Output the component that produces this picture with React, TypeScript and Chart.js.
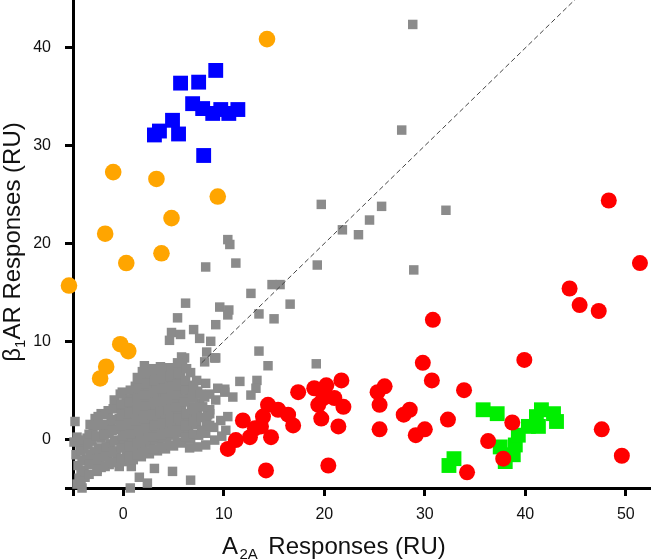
import React, { useEffect, useRef } from 'react';
import { Chart, registerables } from 'chart.js';

Chart.register(...registerables);

// ---- axis definitions ----
const xTicks = [-5, 0, 10, 20, 30, 40, 50];
const yTicks = [-5, 0, 10, 20, 30, 40];
const xMin = -5;
const xMax = 52.5;
const yMin = -5;
const yMax = 44.9;
const xTitleMain = 'A';
const xTitleSub = '2A';
const xTitleRest = 'Responses (RU)';
const yTitleMain = 'β';
const yTitleSub = '1';
const yTitleRest = 'AR Responses (RU)';

// identity (y = x) reference line
const diagonalLine: [number, number][] = [
  [7.8, 7.8],
  [45.2, 45.2],
];

// ---- series ----
const bluePoints: [number, number][] = [
  [9.2, 37.7], [5.7, 36.4], [7.5, 36.5], [6.9, 34.3], [7.9, 33.8], [8.9, 33.3],
  [9.7, 33.7], [10.5, 33.3], [11.4, 33.7], [4.9, 32.6], [3.6, 31.5], [3.1, 31.1],
  [5.5, 31.2], [8.0, 29.0],
];

const orangePoints: [number, number][] = [
  [14.3, 40.9], [-1.0, 27.3], [3.3, 26.6], [9.4, 24.8], [4.8, 22.6], [-1.8, 21.0],
  [3.8, 19.0], [0.3, 18.0], [-5.4, 15.7], [-0.3, 9.7], [0.5, 9.0], [-1.7, 7.4],
  [-2.3, 6.2],
];

const redPoints: [number, number][] = [
  [10.4, -1.0], [11.2, -0.1], [11.9, 1.9], [12.6, 0.2], [13.1, 1.1], [13.9, 2.3],
  [14.4, 3.5], [15.4, 3.0], [14.7, 0.2], [13.7, 1.3], [16.4, 2.5], [16.9, 1.4],
  [14.2, -3.2], [17.4, 4.8], [19.0, 5.2], [20.2, 5.5], [21.7, 6.0], [19.4, 3.5],
  [19.9, 4.2], [21.0, 4.2], [21.9, 3.3], [19.7, 2.1], [21.4, 1.3], [20.4, -2.7],
  [29.8, 7.8], [30.7, 6.0], [33.9, 5.0], [26.0, 5.4], [25.3, 4.8], [25.5, 3.5],
  [28.5, 3.0], [27.9, 2.5], [25.5, 1.0], [29.1, 0.4], [30.0, 1.0], [32.3, 2.0],
  [36.3, -0.2], [37.8, -2.0], [34.2, -3.4], [30.8, 12.2], [44.4, 15.4], [45.4, 13.7],
  [47.3, 13.1], [39.9, 8.1], [38.7, 1.7], [47.6, 1.0], [49.6, -1.7], [51.4, 18.0],
  [48.3, 24.4],
];

const greenPoints: [number, number][] = [
  [35.8, 3.0], [37.2, 2.6], [32.9, -2.0], [32.4, -2.7], [37.5, -0.8], [38.0, -2.3],
  [39.0, -0.6], [39.3, 0.4], [40.3, 1.3], [41.3, 1.3], [41.6, 3.0], [42.8, 2.6],
  [43.1, 1.8], [38.8, -1.6], [41.1, 2.3],
];

const grayPoints: [number, number][] = [
  // scattered points away from the main cloud
  [28.8, 42.4], [27.7, 31.6], [19.7, 24.0], [25.7, 23.8], [32.1, 23.4], [24.5, 22.4],
  [21.8, 21.4], [23.4, 20.9], [28.9, 17.3], [19.3, 17.8], [10.4, 20.4], [10.6, 19.9],
  [8.2, 17.6], [11.2, 18.0], [14.8, 15.8], [15.6, 15.8], [12.7, 14.9], [16.6, 13.8],
  [6.2, 13.9], [9.6, 13.5], [10.5, 13.2], [10.4, 12.7], [13.5, 12.8], [15.0, 12.3],
  [5.4, 12.4], [9.2, 11.7], [4.8, 10.9], [5.7, 10.7], [4.6, 10.1], [7.0, 11.2],
  [7.6, 10.3], [8.7, 10.0], [13.5, 9.0], [14.4, 7.5], [8.3, 8.9], [9.2, 8.3],
  [8.1, 7.9], [6.1, 8.3], [11.6, 5.9], [13.3, 6.0], [13.2, 5.2], [10.1, 5.1],
  [10.9, 4.3], [12.7, 4.5], [19.2, 7.7], [2.1, 7.5], [10.4, 2.3], [-4.8, 1.8],
  [8.6, 2.6], [6.7, -4.2], [4.9, -3.3], [3.1, -3.0], [2.4, -4.5], [1.6, -3.9],
  [0.7, -5.0], [0.8, -2.8], [-0.4, -2.8], [-4.1, -5.0], [-4.4, -4.0], [-3.9, -3.2],
  [-2.6, -3.3], [-3.0, 1.0], [-2.2, 2.6], [-4.9, -0.3], [-4.6, 0.2], [8.2, 5.7],
  [9.4, 5.2], [10.1, 4.8], [8.6, 3.0], [9.7, 1.9], [10.2, 0.9], [9.1, -0.1],
  [8.2, 0.6], [8.4, 2.5], [9.1, 8.3],
  // dense cloud around the origin
  [-4.6, -4.6], [-4.5, -2.7], [-4.7, -1.6], [-4.3, -0.7],
  [-3.8, -3.9], [-3.7, -2.1], [-3.9, -1.0], [-3.6, 0.1],
  [-3.0, -2.4], [-2.9, -1.3], [-3.1, -0.2], [-2.8, 2.1],
  [-2.2, -2.9], [-2.3, -1.9], [-2.1, -1.0], [-2.2, 0.1], [-2.0, 1.2],
  [-1.4, -2.6], [-1.5, -1.5], [-1.3, -0.5], [-1.4, 0.6], [-1.2, 1.7], [-1.5, 2.9],
  [-0.6, -2.2], [-0.7, -1.2], [-0.5, -0.1], [-0.6, 1.0], [-0.4, 2.1], [-0.6, 3.4], [-0.3, 4.6],
  [0.2, -2.3], [0.3, -1.3], [0.1, -0.3], [0.2, 0.8], [0.4, 1.9], [0.2, 3.0], [0.3, 4.1],
  [1.0, -2.1], [1.1, -1.0], [0.9, 0.1], [1.0, 1.2], [1.2, 2.3], [0.9, 3.4], [1.1, 4.6], [1.2, 5.4],
  [1.8, -1.8], [1.9, -0.8], [1.7, 0.4], [1.8, 1.5], [2.0, 2.6], [1.8, 3.8], [1.9, 5.0], [1.8, 6.0], [1.9, 6.9],
  [2.6, -1.5], [2.7, -0.4], [2.5, 0.7], [2.6, 1.8], [2.8, 2.9], [2.6, 4.0], [2.5, 5.2], [2.7, 6.4], [2.9, 7.2],
  [3.4, -1.2], [3.5, -0.1], [3.3, 1.0], [3.4, 2.1], [3.6, 3.2], [3.4, 4.3], [3.3, 5.5], [3.5, 6.6], [3.7, 7.4],
  [4.2, -1.0], [4.3, 0.1], [4.1, 1.3], [4.2, 2.4], [4.4, 3.5], [4.2, 4.6], [4.1, 5.7], [4.3, 6.8], [4.6, 7.3],
  [5.0, -0.7], [5.1, 0.4], [4.9, 1.5], [5.0, 2.6], [5.2, 3.8], [5.0, 4.9], [4.9, 6.0], [5.1, 7.0],
  [5.8, -0.4], [5.9, 0.7], [5.7, 1.8], [5.8, 2.9], [6.0, 4.1], [5.8, 5.2], [5.7, 6.3], [5.9, 7.6], [5.8, 8.4],
  [6.6, -0.9], [6.7, 0.0], [6.5, 1.1], [6.6, 2.2], [6.8, 3.3], [6.6, 4.4], [6.5, 5.5], [6.7, 6.8],
  [7.4, -0.8], [7.5, 0.4], [7.3, 1.5], [7.4, 2.6], [7.6, 3.7], [7.4, 4.9], [7.3, 6.0],
  [8.2, -0.6], [8.3, 1.8], [8.1, 4.3], [9.0, 1.2], [9.2, 4.0], [9.8, 0.3],
  // in-between fill of the cloud
  [-4.2, -4.3], [-4.2, -3.2], [-4.1, -2.2], [-4.2, -1.2], [-4.1, -0.1],
  [-3.4, -3.6], [-3.4, -2.6], [-3.3, -1.6], [-3.5, -0.6], [-3.4, 0.5], [-3.3, 1.5],
  [-2.6, -3.1], [-2.6, -2.1], [-2.5, -0.9], [-2.7, 0.3], [-2.6, 1.4], [-2.5, 2.3],
  [-1.8, -2.8], [-1.8, -1.8], [-1.7, -0.8], [-1.9, 0.4], [-1.8, 1.5], [-1.8, 2.5],
  [-1.0, -2.4], [-1.0, -1.3], [-0.9, -0.2], [-1.1, 0.9], [-1.0, 2.0], [-1.0, 3.1], [-0.9, 4.0],
  [-0.2, -2.0], [-0.2, -0.9], [-0.1, 0.3], [-0.3, 1.4], [-0.2, 2.5], [-0.2, 3.6], [-0.1, 4.8],
  [0.6, -1.8], [0.6, -0.7], [0.7, 0.5], [0.5, 1.6], [0.6, 2.7], [0.6, 3.8], [0.7, 5.0],
  [1.4, -1.6], [1.4, -0.4], [1.5, 0.8], [1.3, 1.9], [1.4, 3.0], [1.4, 4.2], [1.5, 5.2], [1.4, 6.3],
  [2.2, -1.3], [2.2, -0.1], [2.3, 1.1], [2.1, 2.2], [2.2, 3.4], [2.2, 4.5], [2.3, 5.7], [2.2, 6.8],
  [3.0, -1.0], [3.0, 0.2], [3.1, 1.4], [2.9, 2.5], [3.0, 3.7], [3.0, 4.8], [3.1, 6.0], [3.0, 7.0],
  [3.8, -0.8], [3.8, 0.4], [3.9, 1.6], [3.7, 2.8], [3.8, 3.9], [3.8, 5.1], [3.9, 6.2], [3.8, 7.1],
  [4.6, -0.6], [4.6, 0.6], [4.7, 1.8], [4.5, 3.0], [4.6, 4.1], [4.6, 5.3], [4.7, 6.4],
  [5.4, -0.3], [5.4, 0.9], [5.5, 2.1], [5.3, 3.3], [5.4, 4.5], [5.4, 5.6], [5.5, 6.7], [5.4, 7.8],
  [6.2, 0.2], [6.2, 1.4], [6.3, 2.6], [6.1, 3.8], [6.2, 5.0], [6.2, 6.0], [6.3, 7.2],
  [7.0, 0.5], [7.0, 1.8], [7.1, 3.0], [6.9, 4.2], [7.0, 5.3],
  [7.8, 0.9], [7.8, 2.2], [7.9, 3.3], [7.7, 4.6],
  [8.6, 1.4], [8.6, 4.6],
];

const toXY = (pts: [number, number][]) => pts.map(([x, y]) => ({ x, y }));

const FONT = 'Arial, "Liberation Sans", Helvetica, sans-serif';

const titlePlugin = {
  id: 'axisTitles',
  afterDraw(chart: any) {
    const ctx = chart.ctx as CanvasRenderingContext2D;
    const area = chart.chartArea;
    const big = `24px ${FONT}`;
    const small = `15px ${FONT}`;
    ctx.save();
    ctx.fillStyle = '#111';
    ctx.textBaseline = 'alphabetic';
    ctx.textAlign = 'left';

    // x title
    ctx.font = big;
    const w1 = ctx.measureText(xTitleMain).width;
    ctx.font = small;
    const w2 = ctx.measureText(xTitleSub).width;
    const by = 554;
    const x0 = area.left + 149;
    ctx.font = big;
    ctx.fillText(xTitleMain, x0, by);
    ctx.font = small;
    ctx.fillText(xTitleSub, x0 + w1 + 1.5, by + 5);
    ctx.font = big;
    ctx.fillText(xTitleRest, x0 + w1 + 1.5 + w2 + 10.5, by);

    // y title (rotated)
    ctx.font = big;
    const v1 = ctx.measureText(yTitleMain).width;
    const v3 = ctx.measureText(yTitleRest).width;
    ctx.font = small;
    const v2 = ctx.measureText(yTitleSub).width;
    const vt = v1 + v2 + v3;
    const cy = (area.top + area.bottom) / 2 - 2;
    ctx.translate(20, cy);
    ctx.rotate(-Math.PI / 2);
    const s0 = -vt / 2;
    ctx.font = big;
    ctx.fillText(yTitleMain, s0, 0);
    ctx.font = small;
    ctx.fillText(yTitleSub, s0 + v1, 5);
    ctx.font = big;
    ctx.fillText(yTitleRest, s0 + v1 + v2, 0);
    ctx.restore();
  },
};

const zeroPadding = (s: any) => {
  s.paddingTop = 0;
  s.paddingBottom = 0;
  s.paddingLeft = 0;
  s.paddingRight = 0;
};

export default function App() {
  const canvasRef = useRef<HTMLCanvasElement | null>(null);

  useEffect(() => {
    document.body.style.margin = '0';
    const canvas = canvasRef.current;
    if (!canvas) return;

    const tickFont = { size: 16, family: FONT };
    const gridCommon = {
      display: true,
      drawOnChartArea: false,
      drawTicks: true,
      tickLength: 8,
      tickWidth: 3,
      tickColor: '#000',
    };

    const chart = new Chart(canvas, {
      type: 'scatter',
      data: {
        datasets: [
          {
            type: 'line',
            label: 'y = x',
            data: toXY(diagonalLine),
            borderColor: '#444',
            borderWidth: 1,
            borderDash: [5, 3],
            pointRadius: 0,
            fill: false,
            clip: false,
          } as any,
          {
            label: 'red',
            data: toXY(redPoints),
            pointStyle: 'circle',
            pointRadius: 8,
            backgroundColor: '#ff0000',
            borderColor: '#ff0000',
            borderWidth: 0,
            clip: false,
          },
          {
            label: 'green',
            data: toXY(greenPoints),
            pointStyle: 'rect',
            pointRadius: 10.5,
            backgroundColor: '#00ee00',
            borderColor: '#00ee00',
            borderWidth: 0,
            clip: false,
          },
          {
            label: 'orange',
            data: toXY(orangePoints),
            pointStyle: 'circle',
            pointRadius: 8.3,
            backgroundColor: '#ffa500',
            borderColor: '#ffa500',
            borderWidth: 0,
            clip: false,
          },
          {
            label: 'blue',
            data: toXY(bluePoints),
            pointStyle: 'rect',
            pointRadius: 10.5,
            backgroundColor: '#0000ff',
            borderColor: '#0000ff',
            borderWidth: 0,
            clip: false,
          },
          {
            label: 'gray',
            data: toXY(grayPoints),
            pointStyle: 'rect',
            pointRadius: 6.7,
            backgroundColor: '#8b8b8b',
            borderColor: '#8b8b8b',
            borderWidth: 0,
            clip: false,
          },
        ],
      },
      options: {
        animation: false,
        responsive: false,
        maintainAspectRatio: false,
        layout: { padding: 0, autoPadding: false },
        plugins: {
          legend: { display: false },
          tooltip: { enabled: false },
          title: { display: false },
        },
        scales: {
          x: {
            type: 'linear',
            min: xMin,
            max: xMax,
            afterBuildTicks: (s: any) => {
              s.ticks = xTicks.map((v) => ({ value: v }));
            },
            afterFit: (s: any) => {
              s.height = 72;
              zeroPadding(s);
            },
            ticks: {
              autoSkip: false,
              maxRotation: 0,
              padding: 9,
              color: '#111',
              font: tickFont,
              callback: (v: any) => (Number(v) === -5 ? '' : String(v)),
            },
            grid: gridCommon,
            border: { display: true, color: '#000', width: 3 },
          },
          y: {
            type: 'linear',
            min: yMin,
            max: yMax,
            afterBuildTicks: (s: any) => {
              s.ticks = yTicks.map((v) => ({ value: v }));
            },
            afterFit: (s: any) => {
              s.width = 73;
              zeroPadding(s);
            },
            ticks: {
              autoSkip: false,
              padding: 14,
              color: '#111',
              font: tickFont,
              callback: (v: any) => (Number(v) === -5 ? '' : String(v)),
            },
            grid: gridCommon,
            border: { display: true, color: '#000', width: 3 },
          },
        },
      },
      plugins: [titlePlugin],
    });

    return () => chart.destroy();
  }, []);

  return (
    <div style={{ width: 651, height: 560, background: '#fff' }}>
      <canvas ref={canvasRef} width={651} height={560} style={{ display: 'block' }} />
    </div>
  );
}
